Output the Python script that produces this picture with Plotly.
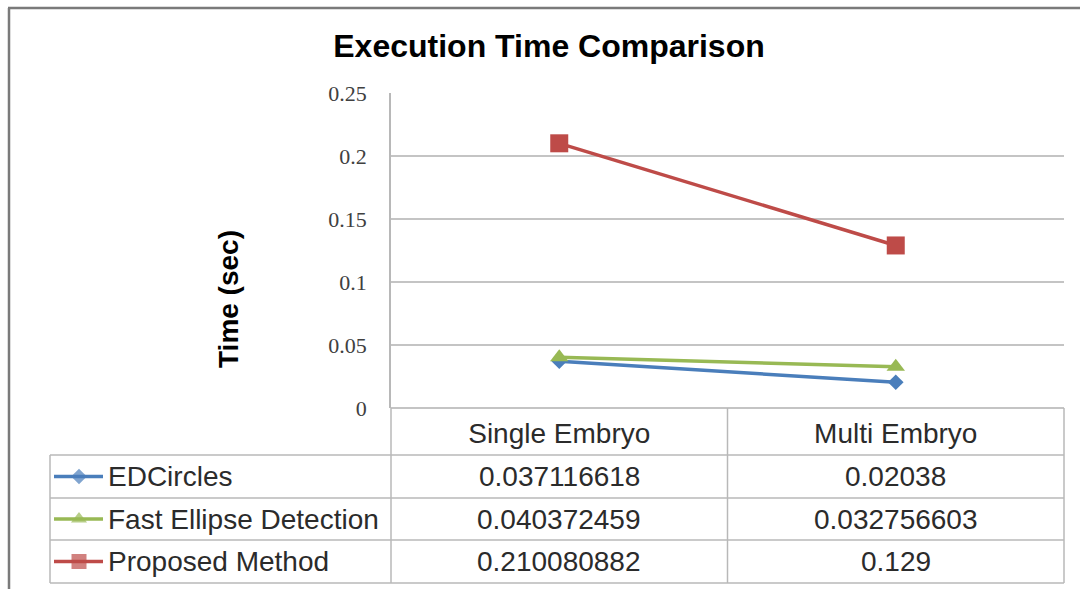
import plotly.graph_objects as go

# ---------------- data ----------------
categories = ["Single Embryo", "Multi Embryo"]
series_names = ["EDCircles", "Fast Ellipse Detection", "Proposed Method"]
edcircles = [0.037116618, 0.02038]
fast_ellipse = [0.040372459, 0.032756603]
proposed = [0.210080882, 0.129]
y_tick_vals = [0, 0.05, 0.1, 0.15, 0.2, 0.25]
y_tick_text = ["0", "0.05", "0.1", "0.15", "0.2", "0.25"]
title_text = "Execution Time Comparison"
y_title = "Time (sec)"

series_values = [edcircles, fast_ellipse, proposed]
series_colors = ["#4A7EBB", "#98B954", "#BE4B48"]
series_symbols = ["diamond", "triangle-up", "square"]
series_sizes = [12, 16, 18]
key_sizes = [12, 14, 15]

# ---------------- geometry (pixels) ----------------
W, H = 1080, 589
L, R, T, B = 391, 1064, 93, 408          # plot area
TBL_L = 50                                # table left edge
ROW_LINES = [455, 498, 540, 583]          # table horizontal lines below header
MID = (L + R) / 2


def px(x):
    return x / W


def py(y):
    return 1 - y / H


TXT = "#2b2b2b"
GRID = "#c4c4c4"
FONT = "Arial, Liberation Sans, sans-serif"
TBL_SIZE = 28

fig = go.Figure()

for name, vals, col, sym, sz in zip(series_names, series_values, series_colors,
                                    series_symbols, series_sizes):
    fig.add_trace(go.Scatter(
        x=categories, y=vals, name=name, mode="lines+markers",
        line=dict(color=col, width=3.5),
        marker=dict(symbol=sym, size=sz, color=col, line=dict(width=0)),
        showlegend=False, xaxis="x", yaxis="y",
    ))

# legend keys inside table (overlay pixel axes)
row_centers = [(ROW_LINES[i] + ROW_LINES[i + 1]) / 2 for i in range(3)]
for name, col, sym, ks, yc in zip(series_names, series_colors, series_symbols,
                                  key_sizes, row_centers):
    fig.add_trace(go.Scatter(
        x=[54, 79, 103], y=[yc, yc, yc], mode="lines+markers",
        line=dict(color=col, width=3.5),
        marker=dict(symbol=sym, size=[0, ks, 0], color=col, line=dict(width=0)),
        showlegend=False, xaxis="x2", yaxis="y2", hoverinfo="skip",
    ))

shapes = []
line_style = dict(color="#b8b8b8", width=1.5)
# table horizontal lines
for yl in ROW_LINES:
    shapes.append(dict(type="line", xref="paper", yref="paper",
                       x0=px(TBL_L), x1=px(R), y0=py(yl), y1=py(yl), line=line_style))
# table verticals
shapes.append(dict(type="line", xref="paper", yref="paper",
                   x0=px(L), x1=px(L), y0=py(B), y1=py(ROW_LINES[-1]), line=line_style))
shapes.append(dict(type="line", xref="paper", yref="paper",
                   x0=px(MID), x1=px(MID), y0=py(B), y1=py(ROW_LINES[-1]), line=line_style))
shapes.append(dict(type="line", xref="paper", yref="paper",
                   x0=px(R), x1=px(R), y0=py(B), y1=py(ROW_LINES[-1]), line=line_style))
shapes.append(dict(type="line", xref="paper", yref="paper",
                   x0=px(TBL_L), x1=px(TBL_L), y0=py(ROW_LINES[0]), y1=py(ROW_LINES[-1]),
                   line=line_style))
# outer frame
frame = dict(color="#7a7a7a", width=2.5)
shapes.append(dict(type="line", xref="paper", yref="paper",
                   x0=px(8), x1=1, y0=py(8), y1=py(8), line=frame))
shapes.append(dict(type="line", xref="paper", yref="paper",
                   x0=px(9), x1=px(9), y0=py(8), y1=0, line=frame))

annotations = []
# row labels and values
col_centers = [(L + MID) / 2, (MID + R) / 2]
for name, vals, yc in zip(series_names, series_values, row_centers):
    annotations.append(dict(text=name, xref="paper", yref="paper",
                            x=px(106), y=py(yc), xanchor="left", yanchor="middle",
                            showarrow=False, font=dict(family=FONT, size=TBL_SIZE, color=TXT)))
    for v, xc in zip(vals, col_centers):
        annotations.append(dict(text=str(v), xref="paper", yref="paper",
                                x=px(xc), y=py(yc), xanchor="center", yanchor="middle",
                                showarrow=False, font=dict(family=FONT, size=TBL_SIZE, color=TXT)))
# y-axis title
annotations.append(dict(text=y_title, xref="paper", yref="paper",
                        x=px(228), y=py(299), xanchor="center", yanchor="middle",
                        textangle=-90, showarrow=False,
                        font=dict(family=FONT, size=28, color="#000000", weight="bold")))

fig.update_layout(
    width=W, height=H,
    margin=dict(l=0, r=0, t=0, b=0, pad=0, autoexpand=False),
    paper_bgcolor="white", plot_bgcolor="rgba(0,0,0,0)",
    title=dict(text=title_text, x=px(549), xanchor="center",
               y=py(46), yanchor="middle", yref="container",
               font=dict(family=FONT, size=32, color="#000000", weight="bold")),
    xaxis=dict(domain=[px(L), px(R)], type="category", range=[-0.5, 1.5],
               showgrid=False, showline=False, zeroline=False, ticks="",
               tickfont=dict(family=FONT, size=TBL_SIZE, color=TXT),
               ticklabelstandoff=6, anchor="y", automargin=False),
    yaxis=dict(domain=[py(B), py(T)], range=[0, 0.25],
               tickvals=y_tick_vals, ticktext=y_tick_text,
               showgrid=True, gridcolor=GRID, gridwidth=1.5,
               zeroline=True, zerolinecolor=GRID, zerolinewidth=1.5,
               showline=True, linecolor="#b8b8b8", linewidth=1.5,
               ticks="", ticklabelstandoff=18,
               tickfont=dict(family="Liberation Serif, Times New Roman, serif",
                             size=22, color="#404040"),
               anchor="x", automargin=False),
    xaxis2=dict(domain=[0, 1], range=[0, W], visible=False, anchor="y2",
                automargin=False),
    yaxis2=dict(domain=[0, 1], range=[H, 0], visible=False, anchor="x2",
                automargin=False),
    shapes=shapes,
    annotations=annotations,
    showlegend=False,
)

fig.write_html("out.html")
